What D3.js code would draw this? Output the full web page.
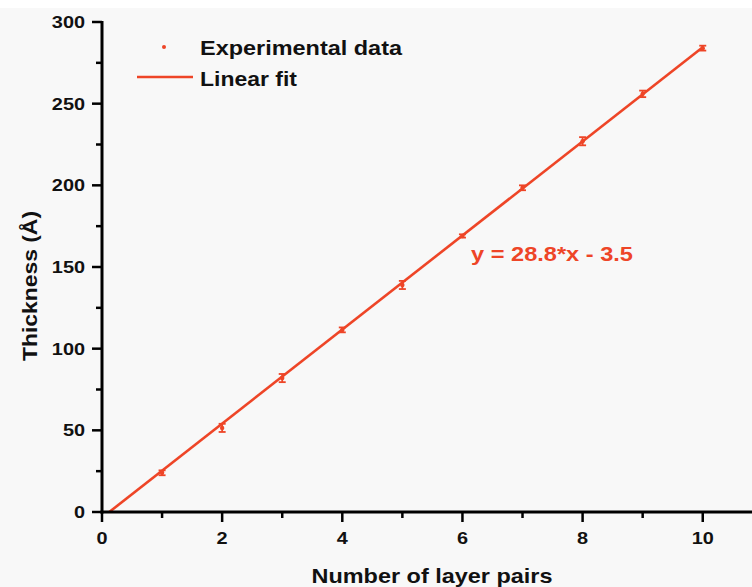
<!DOCTYPE html>
<html><head><meta charset="utf-8">
<script src="https://cdn.jsdelivr.net/npm/d3@7"></script>
<style>html,body{margin:0;padding:0;background:#fff;} svg{display:block;}</style>
</head><body>
<script>
const layerPairs = [1,2,3,4,5,6,7,8,9,10];
const thickness = [24,51.5,82,111.5,139,169,198.5,227,256,284];
const thicknessErr = [1.5,2.5,2.5,1.5,2.5,1,1.5,2.5,2,1.5];
const fitSlope = 28.8, fitIntercept = -3.5;
const xTicks = [0,2,4,6,8,10];
const yTicks = [0,50,100,150,200,250,300];
const legendLabels = ["Experimental data","Linear fit"];
const equationLabel = "y = 28.8*x - 3.5";

const W=752,H=587, red="#ee4527";
const svg=d3.select("body").append("svg").attr("width",W).attr("height",H);
svg.append("rect").attr("width",W).attr("height",H).attr("fill","#fff");
svg.append("rect").attr("y",8).attr("width",W).attr("height",H-8).attr("fill","#f8f8f8");

const x=d3.scaleLinear().domain([0,10.82]).range([102,752]);
const y=d3.scaleLinear().domain([0,300]).range([512,22]);
const font="Liberation Sans, Arial, sans-serif";
const stretch=1.17;

// fit line
const x0=-fitIntercept/fitSlope;
svg.append("line").attr("x1",x(x0)).attr("y1",y(0)).attr("x2",x(10)).attr("y2",y(fitSlope*10+fitIntercept))
  .attr("stroke",red).attr("stroke-width",2.6);

// error bars
const g=svg.append("g");
layerPairs.forEach((v,i)=>{
  const cx=x(v), t=y(thickness[i]+thicknessErr[i]), b=y(thickness[i]-thicknessErr[i]);
  g.append("line").attr("x1",cx).attr("x2",cx).attr("y1",t).attr("y2",b).attr("stroke",red).attr("stroke-width",1.8);
  g.append("line").attr("x1",cx-3.5).attr("x2",cx+3.5).attr("y1",t).attr("y2",t).attr("stroke",red).attr("stroke-width",1.8);
  g.append("line").attr("x1",cx-3.5).attr("x2",cx+3.5).attr("y1",b).attr("y2",b).attr("stroke",red).attr("stroke-width",1.8);
  g.append("circle").attr("cx",cx).attr("cy",y(thickness[i])).attr("r",2.2).attr("fill",red);
});

function stretched(sel, sx){
  // horizontally stretch text about its anchor point
  sel.each(function(){
    const el=d3.select(this);
    const w=this.getComputedTextLength();
    el.attr("textLength",w*sx).attr("lengthAdjust","spacingAndGlyphs");
  });
  return sel;
}

// axes
const xAxis=svg.append("g").attr("transform",`translate(0,${y(0)})`);
xAxis.append("line").attr("x1",x(0)-1.5).attr("x2",W).attr("stroke","#000").attr("stroke-width",3);
d3.range(0,11,1).forEach(v=>{
  const major=v%2===0;
  xAxis.append("line").attr("x1",x(v)).attr("x2",x(v)).attr("y1",0).attr("y2",major?10:6).attr("stroke","#000").attr("stroke-width",2.5);
});
stretched(xAxis.selectAll("text.t").data(xTicks).join("text").attr("x",d=>x(d)).attr("y",544)
  .attr("transform",`translate(0,${-y(0)})`)
  .attr("text-anchor","middle").attr("font-family",font).attr("font-weight","bold").attr("font-size",17).attr("fill","#111").text(d=>d),stretch);

const yAxis=svg.append("g").attr("transform",`translate(${x(0)},0)`);
yAxis.append("line").attr("y1",y(300)-1).attr("y2",y(0)+1.5).attr("stroke","#000").attr("stroke-width",3);
d3.range(0,301,25).forEach(v=>{
  const major=v%50===0;
  yAxis.append("line").attr("x1",0).attr("x2",major?-10:-6).attr("y1",y(v)).attr("y2",y(v)).attr("stroke","#000").attr("stroke-width",2.5);
});
stretched(yAxis.selectAll("text.t").data(yTicks).join("text").attr("x",-17).attr("y",d=>y(d)+6)
  .attr("text-anchor","end").attr("font-family",font).attr("font-weight","bold").attr("font-size",17).attr("fill","#111").text(d=>d),stretch);

// axis titles
const xt=svg.append("text").attr("x",432).attr("y",583).attr("text-anchor","middle").attr("font-family",font)
  .attr("font-weight","bold").attr("font-size",20.5).attr("fill","#111").text("Number of layer pairs");
xt.attr("textLength",241).attr("lengthAdjust","spacingAndGlyphs");
const yt=svg.append("text").attr("transform","translate(37,286) rotate(-90)").attr("text-anchor","middle").attr("font-family",font)
  .attr("font-weight","bold").attr("font-size",20.5).attr("fill","#111").text("Thickness (Å)");
yt.attr("textLength",150).attr("lengthAdjust","spacingAndGlyphs");

// legend
svg.append("circle").attr("cx",164).attr("cy",47).attr("r",2).attr("fill",red);
svg.append("line").attr("x1",137).attr("x2",193).attr("y1",77).attr("y2",77).attr("stroke",red).attr("stroke-width",2.6);
svg.append("text").attr("x",200).attr("y",55).attr("font-family",font).attr("font-weight","bold").attr("font-size",20.5).attr("fill","#111")
  .attr("textLength",202).attr("lengthAdjust","spacingAndGlyphs").text(legendLabels[0]);
svg.append("text").attr("x",200).attr("y",86).attr("font-family",font).attr("font-weight","bold").attr("font-size",20.5).attr("fill","#111")
  .attr("textLength",97).attr("lengthAdjust","spacingAndGlyphs").text(legendLabels[1]);

// equation
svg.append("text").attr("x",471).attr("y",261).attr("font-family",font).attr("font-weight","bold").attr("font-size",20.5).attr("fill",red)
  .attr("textLength",162).attr("lengthAdjust","spacingAndGlyphs").text(equationLabel);
</script>
</body></html>
